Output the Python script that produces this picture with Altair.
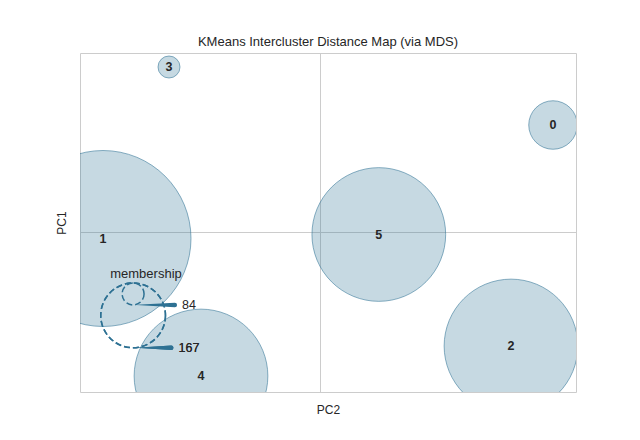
import altair as alt
import numpy as np
import pandas as pd

# Cluster centers embedded in 2D (MDS) and their membership counts
clusters = ["0", "1", "2", "3", "4", "5"]
pc2 = [2.33, -2.17, 1.91, -1.51, -1.19, 0.588]
pc1 = [1.07, -0.065, -1.14, 1.65, -1.44, -0.025]
membership = [84, 237, 167, 74, 167, 167]

PC2_DOMAIN = [-2.4, 2.56]
PC1_DOMAIN = [-1.6, 1.79]
MIN_SIZE, MAX_SIZE = 484, 30976          # marker area range (diameter^2)
W, H = 496, 339

BLUE = "#2e7193"
FONT = "Liberation Sans"
TEXT = "#262626"

main_df = pd.DataFrame(dict(cluster=clusters, pc2=pc2, pc1=pc1, membership=membership))

x_main = alt.X(
    "pc2:Q",
    scale=alt.Scale(domain=PC2_DOMAIN, nice=False, zero=False),
    axis=alt.Axis(title="PC2", values=[0], labels=False, ticks=False, domain=False,
                  grid=True, gridColor="#cccccc", gridWidth=1, titlePadding=12,
                  titleFont=FONT, titleFontSize=12, titleFontWeight="normal",
                  titleColor=TEXT),
)
y_main = alt.Y(
    "pc1:Q",
    scale=alt.Scale(domain=PC1_DOMAIN, nice=False, zero=False),
    axis=alt.Axis(title="PC1", values=[0], labels=False, ticks=False, domain=False,
                  grid=True, gridColor="#cccccc", gridWidth=1, titlePadding=12,
                  titleFont=FONT, titleFontSize=12, titleFontWeight="normal",
                  titleColor=TEXT),
)

size_enc = alt.Size(
    "membership:Q",
    scale=alt.Scale(domain=[min(membership), max(membership)],
                    range=[MIN_SIZE, MAX_SIZE], zero=False),
    legend=None,
)

bubbles = alt.Chart(main_df).mark_circle(
    clip=True, color=BLUE, opacity=1, fillOpacity=0.27,
    stroke=BLUE, strokeOpacity=0.55, strokeWidth=1,
).encode(x=x_main, y=y_main, size=size_enc)

labels = alt.Chart(main_df).mark_text(
    font=FONT, fontSize=12.5, fontWeight="bold", color="#262626",
    align="center", baseline="middle",
).encode(x=x_main, y=y_main, text="cluster:N")

main_layer = alt.layer(bubbles, labels)

# ---- size legend (inset coordinates) ----
m = np.array(membership, dtype=float)
sizes = MIN_SIZE + (MAX_SIZE - MIN_SIZE) * (m - m.min()) / (m.max() - m.min())
radii = np.sqrt(sizes)
scaled = np.interp(radii, (radii.min(), radii.max()), (0.1, 1.0))
idx = [int(np.abs(m - np.percentile(m, q)).argmin()) for q in (25, 50, 75)]

# inset origin inside the plot area (pixels) and pixels per inset unit
LX0, LY0, LS = 66, 273, 43
u_dom = [(0 - LX0) / LS, (W - LX0) / LS]
v_dom = [(LY0 - H) / LS, LY0 / LS]

leg_rows, wedge_rows = [], []
for k, i in enumerate(idx):
    s = float(scaled[i])
    label = str(int(m[i]))
    leg_rows.append(dict(entry=k, u=-0.30, v=1 - s, dsize=(2 * s * LS) ** 2,
                         tu=1.0, tv=1 - 2 * s, label=label))
    text_left = 1.0 - (len(label) * 3.6 + 7) / LS
    wedge_rows.append(dict(entry=k, u=-0.30 + 3 / LS, v=1 - 2 * s, w=0.2))
    wedge_rows.append(dict(entry=k, u=text_left, v=1 - 2 * s, w=4.5))
leg_df = pd.DataFrame(leg_rows)
wedge_df = pd.DataFrame(wedge_rows)
title_df = pd.DataFrame([dict(u=0.0, v=1.2, t="membership")])

ux = lambda f: alt.X(f, scale=alt.Scale(domain=u_dom, nice=False, zero=False), axis=None)
vy = lambda f: alt.Y(f, scale=alt.Scale(domain=v_dom, nice=False, zero=False), axis=None)

leg_circles = alt.Chart(leg_df).mark_point(
    shape="circle", filled=False, stroke=BLUE, strokeWidth=1.5, strokeDash=[6, 3], opacity=1,
).encode(x=ux("u:Q"), y=vy("v:Q"), size=alt.Size("dsize:Q", scale=None, legend=None))

wedges = alt.Chart(wedge_df).mark_trail(color=BLUE).encode(
    x=ux("u:Q"), y=vy("v:Q"),
    size=alt.Size("w:Q", scale=None, legend=None),
    detail="entry:N", order="u:Q",
)

leg_text = alt.Chart(leg_df).mark_text(
    font=FONT, fontSize=12.5, color=TEXT, align="center", baseline="middle",
).encode(x=ux("tu:Q"), y=vy("tv:Q"), text="label:N")

leg_title = alt.Chart(title_df).mark_text(
    font=FONT, fontSize=13, color=TEXT, align="center", baseline="middle",
).encode(x=ux("u:Q"), y=vy("v:Q"), text="t:N")

legend_layer = alt.layer(leg_circles, wedges, leg_text, leg_title)

chart = alt.layer(main_layer, legend_layer).resolve_scale(
    x="independent", y="independent", size="independent"
).properties(
    width=W, height=H,
    title=alt.TitleParams("KMeans Intercluster Distance Map (via MDS)", font=FONT,
                          fontSize=13, fontWeight="normal", color=TEXT, offset=4),
    padding={"left": 80, "top": 53, "right": 64, "bottom": 48},
    autosize=alt.AutoSizeParams(type="none"),
    background="white",
).configure_view(stroke="#cccccc", strokeWidth=1)

chart.save("out.html", embed_options={"renderer": "svg", "actions": False})
